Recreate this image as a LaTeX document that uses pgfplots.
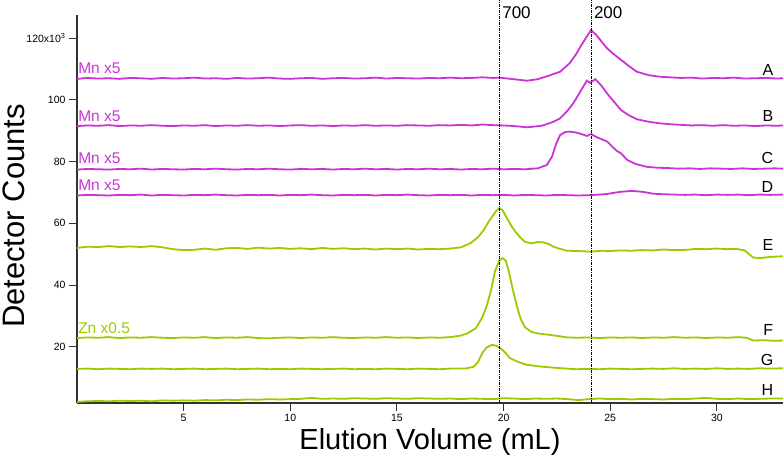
\documentclass[border=0pt]{standalone}
\usepackage{pgfplots}
\pgfplotsset{compat=1.18}
\usepackage{fontspec}
\setmainfont{Liberation Sans}
\definecolor{mn}{RGB}{204,51,214}
\definecolor{zn}{RGB}{153,204,0}
\definecolor{axc}{RGB}{50,50,50}
\tikzset{
  rletter/.style={anchor=east, font=\fontsize{16}{18}\selectfont, inner sep=0pt},
  llab/.style={anchor=west, font=\fontsize{15.5}{17}\selectfont, inner sep=0pt},
}
\begin{document}
\begin{tikzpicture}
\begin{axis}[
  name=ax,
  scale only axis,
  width=706pt, height=388pt,
  xmin=0, xmax=33.1, ymin=1.75, ymax=127.5,
  axis x line=bottom, axis y line=left,
  axis line style={axc, line width=1.1pt, -},
  tick align=outside,
  major tick length=8pt,
  tick style={axc, line width=0.9pt},
  xtick={5,10,15,20,25,30},
  ytick={20,40,60,80,100,120},
  yticklabels={20,40,60,80,100,{120x10\textsuperscript{3}}},
  /pgf/number format/assume math mode=true,
  ticklabel style={font=\fontsize{10.5}{12}\selectfont},
  xlabel={Elution Volume (mL)},
  ylabel={Detector Counts},
  xlabel style={font=\fontsize{29}{33}\selectfont, at={(axis description cs:0.5,-0.1)}, anchor=center},
  ylabel style={font=\fontsize{31}{35}\selectfont, at={(axis description cs:-0.089,0.482)}, anchor=center, rotate=0},
  clip=false,
  every axis plot/.append style={line width=1.8pt},
]
% A
\addplot[mn] coordinates {
(0,106.8)(0.5,107.1)(1,106.9)(1.5,107.0)(2,106.8)(2.5,107.1)(3,107.0)(3.5,106.8)(4,107.1)(4.5,106.9)(5,107.0)(5.5,107.2)(6,106.9)(6.5,107.0)(7,106.8)(7.5,107.1)(8,106.9)(8.5,107.0)(9,107.2)(9.5,106.9)(10,106.8)(10.5,107.0)(11,107.1)(11.5,106.8)(12,107.0)(12.5,107.1)(13,106.9)(13.5,107.0)(14,107.2)(14.5,106.9)(15,107.1)(15.5,107.0)(16,106.9)(16.5,107.1)(17,107.0)(17.5,107.2)(18,107.0)(18.5,107.1)(19,107.3)(19.5,107.1)(19.8,107.2)(20.2,106.9)(20.6,106.6)(21.1,106.2)(21.6,106.7)(22.1,107.8)(22.65,109.1)(23.1,111.9)(23.4,114.8)(23.6,117.2)(23.9,120.5)(24.1,122.6)(24.35,121.0)(24.6,118.8)(24.85,116.7)(25.2,114.6)(25.5,113.0)(25.9,110.8)(26.25,109.1)(26.8,108.0)(27.3,107.5)(27.8,107.3)(28.3,107.1)(28.8,107.2)(29.3,106.9)(29.8,107.1)(30.3,107.0)(30.8,107.2)(31.3,106.9)(31.8,107.0)(32.3,107.1)(32.8,106.9)(33.1,107.0)};
% B
\addplot[mn] coordinates {
(0,91.5)(0.5,91.7)(1,91.6)(1.5,91.8)(2,91.5)(2.5,91.7)(3,91.6)(3.5,91.8)(4,91.6)(4.5,91.5)(5,91.7)(5.5,91.6)(6,91.8)(6.5,91.5)(7,91.7)(7.5,91.6)(8,91.8)(8.5,91.6)(9,91.7)(9.5,91.5)(10,91.7)(10.5,91.8)(11,91.6)(11.5,91.7)(12,91.5)(12.5,91.7)(13,91.6)(13.5,91.8)(14,91.6)(14.5,91.7)(15,91.6)(15.5,91.8)(16,91.7)(16.5,91.6)(17,91.8)(17.5,91.7)(18,91.9)(18.5,91.7)(19,92.0)(19.5,91.8)(20,91.7)(20.5,91.5)(21.1,91.1)(21.8,91.6)(22.3,92.8)(22.65,94.0)(23.0,96.5)(23.27,98.9)(23.6,102.7)(23.9,106.2)(24.05,105.5)(24.3,106.7)(24.6,104.5)(24.85,102.1)(25.2,99.2)(25.5,96.7)(25.9,94.9)(26.25,93.7)(26.8,92.9)(27.3,92.4)(27.8,92.1)(28.3,91.9)(28.8,91.7)(29.3,91.8)(29.8,91.6)(30.3,91.8)(30.8,91.6)(31.3,91.7)(31.8,91.5)(32.3,91.7)(32.8,91.6)(33.1,91.7)};
% C
\addplot[mn] coordinates {
(0,77.4)(0.5,77.6)(1,77.5)(1.5,77.4)(2,77.6)(2.5,77.5)(3,77.7)(3.5,77.4)(4,77.6)(4.5,77.5)(5,77.4)(5.5,77.6)(6,77.5)(6.5,77.7)(7,77.5)(7.5,77.4)(8,77.6)(8.5,77.5)(9,77.7)(9.5,77.5)(10,77.4)(10.5,77.6)(11,77.5)(11.5,77.6)(12,77.4)(12.5,77.6)(13,77.5)(13.5,77.7)(14,77.5)(14.5,77.6)(15,77.4)(15.5,77.6)(16,77.5)(16.5,77.7)(17,77.5)(17.5,77.6)(18,77.4)(18.5,77.6)(19,77.5)(19.5,77.7)(20,77.5)(20.5,77.6)(21.0,77.5)(21.6,77.8)(22.03,78.9)(22.27,81.6)(22.45,85.5)(22.65,88.6)(22.9,89.6)(23.1,89.7)(23.4,89.4)(23.7,88.8)(23.9,88.3)(24.1,88.9)(24.4,87.8)(24.85,86.5)(25.1,84.8)(25.3,83.5)(25.5,82.7)(25.8,80.5)(26.2,79.2)(26.7,78.3)(27.2,78.0)(27.7,77.9)(28.2,77.7)(28.7,77.8)(29.2,77.6)(29.7,77.8)(30.2,77.7)(30.7,77.6)(31.2,77.8)(31.7,77.6)(32.2,77.7)(32.7,77.8)(33.1,77.7)};
% D
\addplot[mn] coordinates {
(0,69.0)(0.5,69.2)(1,69.1)(1.5,69.0)(2,69.2)(2.5,69.1)(3,69.3)(3.5,69.0)(4,69.2)(4.5,69.1)(5,69.0)(5.5,69.2)(6,69.1)(6.5,69.3)(7,69.1)(7.5,69.0)(8,69.2)(8.5,69.1)(9,69.2)(9.5,69.0)(10,69.2)(10.5,69.1)(11,69.3)(11.5,69.1)(12,69.0)(12.5,69.2)(13,69.1)(13.5,69.2)(14,69.0)(14.5,69.2)(15,69.1)(15.5,69.3)(16,69.1)(16.5,69.0)(17,69.2)(17.5,69.1)(18,69.2)(18.5,69.0)(19,69.2)(19.5,69.1)(20,69.2)(20.5,69.0)(21,69.2)(21.5,69.1)(22,69.0)(22.5,69.2)(23,69.1)(23.5,69.0)(24,69.1)(24.5,69.3)(24.85,69.5)(25.2,69.9)(25.5,70.2)(26.0,70.5)(26.5,70.2)(27.0,69.6)(27.5,69.4)(28,69.3)(28.5,69.2)(29,69.3)(29.5,69.1)(30,69.3)(30.5,69.2)(31,69.3)(31.5,69.1)(32,69.3)(32.5,69.2)(33.1,69.3)};
% E
\addplot[zn] coordinates {
(0,52.0)(0.5,52.4)(1,52.3)(1.5,52.6)(2,52.3)(2.5,52.5)(3,52.3)(3.5,52.6)(4,52.2)(4.5,51.6)(5,51.3)(5.5,51.4)(6,51.8)(6.5,51.4)(7,51.9)(7.5,52.0)(8,51.7)(8.5,52.1)(9,51.8)(9.5,52.0)(10,51.7)(10.5,51.9)(11,51.6)(11.5,52.0)(12,51.7)(12.5,51.9)(13,51.6)(13.5,51.8)(14,51.5)(14.5,51.8)(15,51.6)(15.5,51.8)(16,51.5)(16.5,51.7)(17,51.6)(17.5,51.8)(18.0,52.2)(18.44,53.5)(18.8,55.5)(19.07,57.8)(19.3,60.5)(19.46,62.1)(19.65,64.0)(19.8,64.9)(19.95,64.3)(20.16,61.6)(20.35,59.3)(20.55,57.3)(20.8,55.3)(21.0,54.0)(21.3,53.5)(21.6,53.9)(21.87,53.8)(22.1,53.3)(22.34,52.4)(22.6,51.8)(22.97,51.1)(23.5,51.0)(24.1,50.8)(24.6,51.1)(25,51.0)(25.5,51.2)(26,51.1)(26.5,51.3)(27,51.2)(27.5,51.5)(28,51.3)(28.6,51.4)(29,51.7)(29.5,51.6)(30,51.8)(30.5,51.6)(30.9,51.7)(31.3,51.2)(31.7,48.9)(32.0,48.7)(32.5,49.1)(33.1,49.3)};
% F
\addplot[zn] coordinates {
(0,22.8)(0.5,23.0)(1,22.9)(1.5,23.1)(2,22.8)(2.5,23.0)(3,22.9)(3.5,23.1)(4,22.9)(4.5,22.8)(5,23.0)(5.5,22.9)(6,23.1)(6.5,22.8)(7,23.0)(7.5,22.9)(8,23.1)(8.5,22.8)(9,22.7)(9.5,22.9)(10,23.0)(10.5,22.8)(11,23.0)(11.5,22.9)(12,23.1)(12.5,22.9)(13,22.8)(13.5,23.0)(14,22.9)(14.5,23.1)(15,22.9)(15.5,23.0)(16,22.8)(16.5,23.0)(17,22.9)(17.5,23.1)(18.0,23.6)(18.3,24.3)(18.7,26.0)(19.0,29.5)(19.2,33.0)(19.4,38.0)(19.6,44.5)(19.8,48.0)(19.95,48.7)(20.1,47.9)(20.24,44.5)(20.45,38.0)(20.63,33.0)(20.8,29.0)(21.0,26.3)(21.3,24.8)(21.6,24.3)(22.2,23.8)(23.0,23.0)(23.5,22.9)(24,23.0)(24.5,22.8)(25,23.0)(25.5,22.9)(26,23.0)(26.5,22.8)(27,23.0)(27.5,22.9)(28,23.1)(28.5,22.9)(29,23.0)(29.5,22.8)(30,23.0)(30.5,22.9)(31,23.1)(31.4,22.9)(31.7,22.0)(32.2,22.1)(32.7,21.9)(33.1,22.0)};
% G
\addplot[zn] coordinates {
(0,12.8)(0.5,12.9)(1,12.7)(1.5,12.9)(2,12.8)(2.5,12.7)(3,12.9)(3.5,12.8)(4,12.9)(4.5,12.7)(5,12.8)(5.5,12.9)(6,12.7)(6.5,12.8)(7,12.9)(7.5,12.7)(8,12.8)(8.5,12.9)(9,12.7)(9.5,12.8)(10,12.7)(10.5,12.9)(11,12.8)(11.5,12.7)(12,12.8)(12.5,12.9)(13,12.7)(13.5,12.8)(14,12.7)(14.5,12.9)(15,12.8)(15.5,12.7)(16,12.9)(16.5,12.8)(17,12.7)(17.5,12.9)(18.2,12.9)(18.6,13.5)(18.8,15.0)(19.0,17.9)(19.2,19.7)(19.46,20.6)(19.65,20.3)(19.85,19.5)(20.05,18.3)(20.3,16.3)(20.7,15.0)(21.1,14.1)(21.7,13.6)(22.34,13.2)(23.4,12.7)(24,12.8)(24.5,12.7)(25,12.9)(25.5,12.8)(26,12.7)(26.5,12.8)(27,12.9)(27.5,12.8)(28,13.0)(28.5,12.8)(29,12.9)(29.5,12.8)(30,13.0)(30.5,12.8)(31,12.9)(31.5,12.8)(32,13.0)(32.5,12.9)(33.1,13.0)};
% H
\addplot[zn] coordinates {
(0,2.1)(0.5,2.3)(1,2.4)(1.5,2.3)(2,2.5)(2.5,2.4)(3,2.5)(3.5,2.3)(4,2.6)(4.5,2.5)(5,2.6)(5.5,2.5)(6,2.7)(6.5,2.6)(7,2.8)(7.5,2.7)(8,2.9)(8.5,2.8)(9,3.0)(9.5,2.9)(10,3.0)(10.5,3.1)(11,3.4)(11.5,3.1)(12,3.2)(12.5,3.1)(13,3.3)(13.5,3.2)(14,3.1)(14.5,3.3)(15,3.2)(15.5,3.1)(16,3.3)(16.5,3.2)(17,3.1)(17.5,3.2)(18,3.0)(18.5,3.2)(19,3.1)(19.5,3.0)(20,3.3)(20.5,3.2)(21,3.0)(21.5,3.2)(22,3.1)(22.5,3.2)(23,3.0)(23.5,2.7)(24,3.0)(24.5,3.2)(25,3.0)(25.5,3.1)(26,2.9)(26.5,3.1)(27,3.0)(27.5,2.9)(28,3.1)(28.5,3.0)(29,3.2)(29.5,3.4)(30,3.1)(30.5,3.0)(31,3.2)(31.5,3.0)(32,3.1)(32.5,3.2)(33.1,3.2)};
% marker lines
\addplot[black, line width=0.8pt, dash pattern=on 3pt off 1pt on 1pt off 1pt] coordinates {(19.8,1.75)(19.8,132.4)};
\addplot[black, line width=0.8pt, dash pattern=on 3pt off 1pt on 1pt off 1pt] coordinates {(24.1,1.75)(24.1,132.4)};
\node[anchor=west, font=\fontsize{17}{20}\selectfont, inner sep=0pt] at (axis cs:19.93,128.2) {700};
\node[anchor=west, font=\fontsize{17}{20}\selectfont, inner sep=0pt] at (axis cs:24.23,128.2) {200};
% left labels
\node[llab, mn] at (axis cs:0.05,110.3) {Mn x5};
\node[llab, mn] at (axis cs:0.05,94.6) {Mn x5};
\node[llab, mn] at (axis cs:0.05,81.1) {Mn x5};
\node[llab, mn] at (axis cs:0.05,72.4) {Mn x5};
\node[llab, zn] at (axis cs:0.05,26.0) {Zn x0.5};
% right letters
\node[rletter] at (axis cs:32.65,109.7) {A};
\node[rletter] at (axis cs:32.65,94.8) {B};
\node[rletter] at (axis cs:32.65,81.2) {C};
\node[rletter] at (axis cs:32.65,71.9) {D};
\node[rletter] at (axis cs:32.65,53.0) {E};
\node[rletter] at (axis cs:32.65,25.4) {F};
\node[rletter] at (axis cs:32.65,15.7) {G};
\node[rletter] at (axis cs:32.65,6.0) {H};
\end{axis}
\pgfresetboundingbox
\path ([shift={(-77pt,-59pt)}]ax.south west) rectangle ([shift={(1pt,15pt)}]ax.north east);
\end{tikzpicture}
\end{document}
